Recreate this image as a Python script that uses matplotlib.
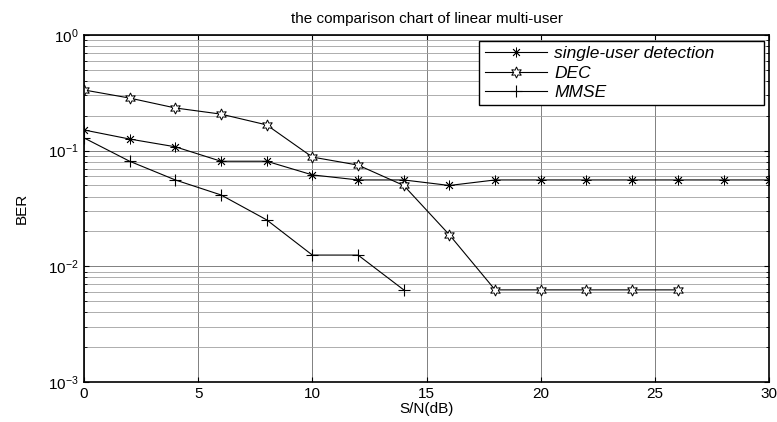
import matplotlib
matplotlib.use("Agg")
import matplotlib.pyplot as plt
from matplotlib.ticker import LogLocator, NullFormatter

plt.rcParams['font.family'] = ['Liberation Sans', 'DejaVu Sans']

snr_su = [0, 2, 4, 6, 8, 10, 12, 14, 16, 18, 20, 22, 24, 26, 28, 30]
ber_su = [0.151, 0.126, 0.108, 0.081, 0.081, 0.0617, 0.0558, 0.0558, 0.050,
          0.0558, 0.0558, 0.0558, 0.0558, 0.0558, 0.0558, 0.0558]
snr_dec = [0, 2, 4, 6, 8, 10, 12, 14, 16, 18, 20, 22, 24, 26]
ber_dec = [0.335, 0.285, 0.234, 0.207, 0.167, 0.088, 0.075, 0.050, 0.0187,
           0.00625, 0.00625, 0.00625, 0.00625, 0.00625]
snr_mmse = [0, 2, 4, 6, 8, 10, 12, 14]
ber_mmse = [0.129, 0.081, 0.0558, 0.0414, 0.0252, 0.0125, 0.0125, 0.00625]

fig = plt.figure(figsize=(7.77, 4.22), dpi=100)
ax = fig.add_axes([0.108, 0.095, 0.882, 0.822])

ax.semilogy(snr_su, ber_su, color='black', lw=0.8, marker=(8, 2, 0), ms=7,
            mec='black', mew=0.6, label='single-user detection')
ax.semilogy(snr_dec, ber_dec, color='black', lw=0.8, marker=(6, 1, 0), ms=8,
            mfc='white', mec='black', mew=0.7, label='DEC')
ax.semilogy(snr_mmse, ber_mmse, color='black', lw=0.8, marker='+', ms=9,
            mec='black', mew=0.8, label='MMSE')

ax.set_xlim(0, 30)
ax.set_ylim(1e-3, 1)
ax.set_xticks([0, 5, 10, 15, 20, 25, 30])
ax.yaxis.set_minor_locator(LogLocator(base=10, subs=range(2, 10), numticks=20))
ax.yaxis.set_minor_formatter(NullFormatter())
ax.grid(True, which='major', color='#808080', lw=0.7, ls='-')
ax.grid(True, which='minor', axis='y', color='#a0a0a0', lw=0.6, ls='-')
ax.tick_params(which='both', direction='in', top=True, right=True, labelsize=11)
ax.tick_params(which='minor', length=2)
for s in ax.spines.values():
    s.set_linewidth(1.2)

ax.set_xlabel('S/N(dB)', fontsize=11, labelpad=1)
ax.set_ylabel('BER', fontsize=11, labelpad=14)
ax.set_title('the comparison chart of linear multi-user', fontsize=11, pad=9)

leg = ax.legend(loc='upper left', bbox_to_anchor=(0.577, 0.804, 0.415, 0.179),
                mode='expand', fancybox=False, framealpha=1, edgecolor='black',
                prop={'style': 'italic', 'size': 12.5}, handlelength=3.6,
                borderpad=0.3, labelspacing=0.25, borderaxespad=0.0,
                handletextpad=0.4)
leg.get_frame().set_linewidth(1.0)

fig.savefig('out.png', dpi=100)
